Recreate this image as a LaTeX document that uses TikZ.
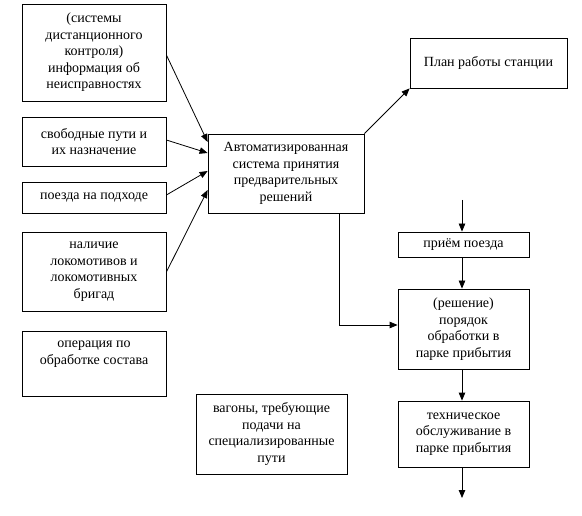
\documentclass[tikz,border=0pt]{standalone}
\usepackage{fontspec}
\setmainfont{Liberation Serif}
\usetikzlibrary{arrows.meta,calc}
\begin{document}
\begin{tikzpicture}[x=1pt,y=-1pt,
  box/.style={draw,line width=0.8pt,inner sep=0pt,align=center,
    font=\fontsize{14}{16.5}\selectfont},
  arr/.style={line width=0.8pt,-{Triangle[length=8pt,width=6.5pt]}},
  ln/.style={line width=0.8pt}]
\useasboundingbox (0,0) rectangle (582,516);
\node[box,minimum width=144pt,minimum height=97pt] (b1) at (94,52.5)
  {(системы\\дистанционного\\контроля)\\информация об\\неисправностях};
\node[box,minimum width=144pt,minimum height=49pt] (b2) at (94,141.5)
  {свободные пути и\\их назначение};
\node[box,minimum width=144pt,minimum height=31pt] (b3) at (94,197.5)
  {поезда на подходе};
\node[box,minimum width=144pt,minimum height=79pt] (b4) at (94,271.5)
  {наличие\\локомотивов и\\локомотивных\\бригад};
\node[box,minimum width=144pt,minimum height=65pt] (b5) at (94,363.5)
  {операция по\\обработке состава\\\strut};
\node[box,minimum width=156pt,minimum height=79pt] (c) at (286,173.5)
  {Автоматизированная\\система принятия\\предварительных\\решений};
\node[box,minimum width=157pt,minimum height=50pt] (p) at (488.5,63)
  {План работы станции};
\node[box,minimum width=131pt,minimum height=25pt] (r1) at (463.5,244.5)
  {приём поезда};
\node[box,minimum width=131pt,minimum height=80pt] (r2) at (463.5,329)
  {(решение)\\порядок\\обработки в\\парке прибытия};
\node[box,minimum width=131pt,minimum height=66pt] (r3) at (463.5,434)
  {техническое\\обслуживание в\\парке прибытия};
\node[box,minimum width=151pt,minimum height=80pt] (w) at (271.5,434)
  {вагоны, требующие\\подачи на\\специализированные\\пути};
\coordinate (in) at (462,200);
\coordinate (out) at (462,498);
\draw[arr] (b1.east |- 0,55) -- (c.west |- 0,142);
\draw[arr] (b2.east |- 0,140) -- (c.west |- 0,153);
\draw[arr] (b3.east |- 0,195) -- (c.west |- 0,171);
\draw[arr] (b4.east |- 0,272) -- (c.west |- 0,190);
\draw[arr] (c.north east) -- (p.south west);
\draw[arr] (c.south -| 339,0) |- (r2.west |- 0,325);
\draw[arr] (in) -- (in |- r1.north);
\draw[arr] (r1.south -| in) -- (r2.north -| in);
\draw[arr] (r2.south -| in) -- (r3.north -| in);
\draw[arr] (r3.south -| in) -- (out);
\end{tikzpicture}
\end{document}
